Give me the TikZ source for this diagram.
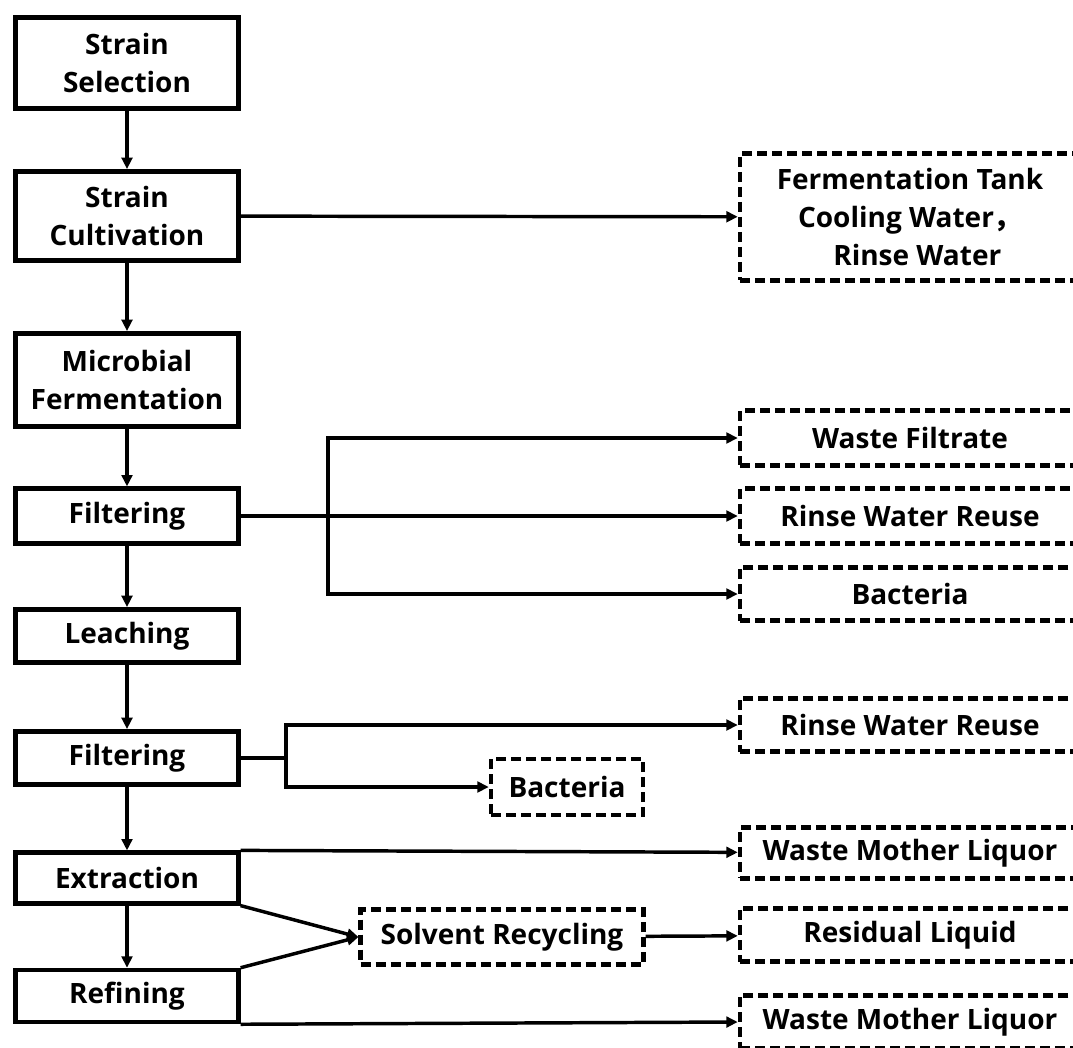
\documentclass[tikz,border=0pt]{standalone}
\usepackage{fontspec}
\setmainfont{Open Sans}
\newfontfamily\cjk{Noto Sans CJK SC}
\usepackage{tikz}
\usetikzlibrary{arrows.meta}

\begin{document}
\begin{tikzpicture}[x=0.75pt, y=-0.75pt,
  stepbox/.style={draw, line width=3.4pt, minimum width=167pt, align=center,
    font=\fontsize{21}{28.5}\selectfont\bfseries, inner sep=0pt},
  outbox/.style={draw, dash pattern=on 7.5pt off 3.75pt, line width=3.4pt,
    minimum width=255pt, align=center,
    font=\fontsize{21}{28.5}\selectfont\bfseries, inner sep=0pt},
  flow/.style={line width=2.6pt, -{Triangle[length=8.5pt, width=8pt]}},
  flowline/.style={line width=2.6pt}]

\useasboundingbox (0,0) rectangle (1073,1048);
\clip (0,0) rectangle (1073,1048);

% main process
\node[stepbox, minimum height=68pt] (sel) at (127,63) {Strain\\Selection};
\node[stepbox, minimum height=67pt] (cult) at (127,216) {Strain\\Cultivation};
\node[stepbox, minimum height=70pt] (ferm) at (127,380) {Microbial\\Fermentation};
\node[stepbox, minimum height=41pt] (filt1) at (127,516) {Filtering};
\node[stepbox, minimum height=40pt] (leach) at (127,636) {Leaching};
\node[stepbox, minimum height=40pt] (filt2) at (127,758) {Filtering};
\node[stepbox, minimum height=38pt] (extr) at (127,878) {Extraction};
\node[stepbox, minimum height=39pt] (refin) at (127,996) {Refining};

% outputs
\node[outbox, minimum height=95pt] (tank) at (910,217)
  {Fermentation Tank\\Cooling Water{\cjk ，}\\\ \ Rinse Water};
\node[outbox, minimum height=41pt] (filtrate) at (910,438) {Waste Filtrate};
\node[outbox, minimum height=41pt] (rinse1) at (910,516) {Rinse Water Reuse};
\node[outbox, minimum height=40pt] (bact1) at (910,594) {Bacteria};
\node[outbox, minimum height=40pt] (rinse2) at (910,725) {Rinse Water Reuse};
\node[outbox, minimum height=38pt] (mother1) at (910,853) {Waste Mother Liquor};
\node[outbox, minimum height=40pt] (residual) at (910,935) {Residual Liquid};
\node[outbox, minimum height=40pt] (mother2) at (910,1022) {Waste Mother Liquor};

\node[outbox, minimum width=114pt, minimum height=42pt] (bact2) at (567,787) {Bacteria};
\node[outbox, minimum width=212pt, minimum height=41pt] (solv) at (502,937) {Solvent Recycling};

\coordinate (br1) at (328,516);
\coordinate (br2) at (286,758);

% main chain
\draw[flow] (sel) -- (cult);
\draw[flow] (cult) -- (ferm);
\draw[flow] (ferm) -- (filt1);
\draw[flow] (filt1) -- (leach);
\draw[flow] (leach) -- (filt2);
\draw[flow] (filt2) -- (extr);
\draw[flow] (extr) -- (refin);

% side streams
\draw[flow] (cult) -- (tank);
\draw[flow] (filt1) -- (rinse1);
\draw[flow] (br1) |- (filtrate);
\draw[flow] (br1) |- (bact1);
\draw[flowline] (filt2) -- (br2);
\draw[flow] (br2) |- (rinse2);
\draw[flow] (br2) |- (bact2);
\draw[flow] (extr.north east) -- (mother1);
\draw[flow] (extr.south east) -- (solv.west);
\draw[flow] (refin.north east) -- (solv.west);
\draw[flow] (solv) -- (residual);
\draw[flow] (refin.south east) -- (mother2.west);

\end{tikzpicture}
\end{document}
